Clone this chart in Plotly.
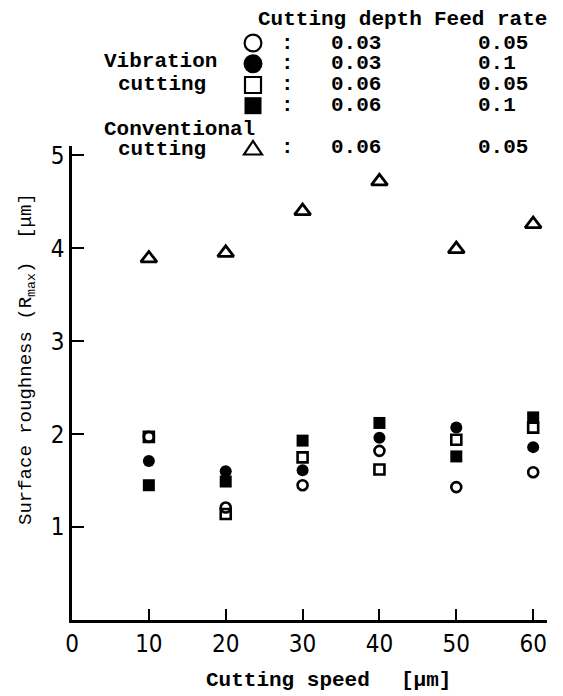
import plotly.graph_objects as go

# ---------------- data ----------------
speed = [10, 20, 30, 40, 50, 60]
open_circle = [1.97, 1.21, 1.45, 1.82, 1.43, 1.59]      # vib, depth 0.03, feed 0.05
filled_circle = [1.71, 1.60, 1.61, 1.96, 2.07, 1.86]    # vib, depth 0.03, feed 0.1
open_square = [1.97, 1.14, 1.75, 1.62, 1.94, 2.07]      # vib, depth 0.06, feed 0.05
filled_square = [1.45, 1.49, 1.93, 2.12, 1.76, 2.18]    # vib, depth 0.06, feed 0.1
triangle = [3.89, 3.95, 4.40, 4.72, 3.99, 4.26]         # conv, depth 0.06, feed 0.05

series_depth = ["0.03", "0.03", "0.06", "0.06", "0.06"]
series_feed = ["0.05", "0.1", "0.05", "0.1", "0.05"]
x_ticks = [0, 10, 20, 30, 40, 50, 60]
y_ticks = [1, 2, 3, 4, 5]

# ---------------- geometry (screen px, page has an 8px body margin) ----------------
OFF = 8
W, H = 563 - OFF, 696 - OFF
L, R, T, B = 72, 547, 146, 620   # plot area in screen px


def px(x):
    return (x - L) / (R - L)


def py(y):
    return (B - y) / (B - T)


mono = "Liberation Mono, DejaVu Sans Mono, monospace"
narrow = "Liberation Sans Narrow, DejaVu Sans Condensed, Arial Narrow, sans-serif"

fig = go.Figure()

styles = [
    ("circle-open", open_circle, 10, 2.6),
    ("circle", filled_circle, 12, 0),
    ("square-open", open_square, 10, 2.6),
    ("square", filled_square, 12, 0),
    ("triangle-up-open", triangle, 14, 2.8),
]
for sym, vals, size, lw in styles:
    fig.add_trace(go.Scatter(
        x=speed, y=vals, mode="markers",
        marker=dict(symbol=sym, size=size, color="black",
                    line=dict(color="black", width=lw)),
        showlegend=False, hoverinfo="skip",
    ))

# ---------------- legend symbols as shapes ----------------
leg_x = 253
leg_rows = [43, 63.7, 85, 105.7, 148]
shapes = []


def box(kind, cx, cy, h, filled, lw=2.2):
    shapes.append(dict(
        type=kind, xref="paper", yref="paper",
        x0=px(cx - h), x1=px(cx + h), y0=py(cy + h), y1=py(cy - h),
        line=dict(color="black", width=0 if filled else lw),
        fillcolor="black" if filled else "rgba(0,0,0,0)",
    ))


box("circle", leg_x, leg_rows[0], 8.4, False)
box("circle", leg_x, leg_rows[1], 9.5, True)
box("rect", leg_x, leg_rows[2], 8.0, False)
box("rect", leg_x, leg_rows[3], 8.5, True)
cy = leg_rows[4]
shapes.append(dict(
    type="path", xref="paper", yref="paper",
    path=(f"M {px(leg_x - 9)} {py(cy + 6.5)} L {px(leg_x + 9)} {py(cy + 6.5)} "
          f"L {px(leg_x)} {py(cy - 7)} Z"),
    line=dict(color="black", width=2.2), fillcolor="rgba(0,0,0,0)",
))

ann = []


def text(x, y, s, size=21, bold=True, xanchor="left", family=mono, angle=0):
    ann.append(dict(
        x=px(x), y=py(y), xref="paper", yref="paper", showarrow=False,
        text=f"<b>{s}</b>" if bold else s, xanchor=xanchor, yanchor="middle",
        textangle=angle, font=dict(family=family, size=size, color="black"),
        borderpad=0,
    ))


text(257, 19, "Cutting depth")
text(433, 19, "Feed rate")
for ry, d, f in zip(leg_rows, series_depth, series_feed):
    text(287, ry, ":", xanchor="center")
    text(330, ry, d)
    text(477, ry, f)

text(103, 62, "Vibration")
text(117, 84, "cutting")
text(103, 130, "Conventional")
text(117, 149, "cutting")

# axis titles
text(205, 680, "Cutting speed")
text(400, 680, "[μm]")
text(27, 359, "Surface roughness (R<sub>max</sub>)  [μm]", size=19, bold=False,
     xanchor="center", angle=-90)

fig.update_layout(
    width=W, height=H,
    margin=dict(l=L - OFF, r=W - (R - OFF), t=T - OFF, b=H - (B - OFF), pad=0),
    paper_bgcolor="white", plot_bgcolor="white",
    annotations=ann, shapes=shapes,
    xaxis=dict(
        range=[0, 61.8], tickvals=x_ticks, ticktext=[str(v) for v in x_ticks],
        showline=True, linecolor="black", linewidth=2.5, mirror=False,
        ticks="inside", ticklen=11, tickwidth=2, tickcolor="black",
        showgrid=False, zeroline=False, automargin=False,
        tickfont=dict(family=narrow, size=24, color="black"),
    ),
    yaxis=dict(
        range=[0, 5.1], tickvals=y_ticks, ticktext=[str(v) for v in y_ticks],
        showline=True, linecolor="black", linewidth=2.5, mirror=False,
        ticks="inside", ticklen=12, tickwidth=2, tickcolor="black",
        showgrid=False, zeroline=False, automargin=False,
        tickfont=dict(family=narrow, size=24, color="black"),
    ),
)

fig.write_html("out.html")
